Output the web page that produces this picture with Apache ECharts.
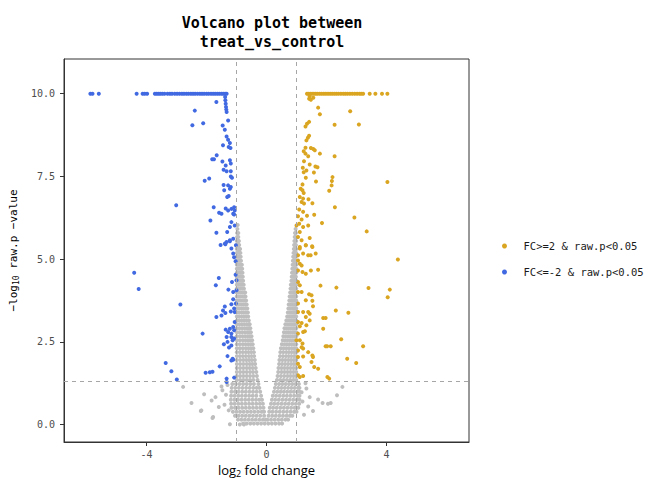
<!DOCTYPE html>
<html><head><meta charset="utf-8">
<script src="https://cdn.jsdelivr.net/npm/echarts@6/dist/echarts.min.js"></script>
<style>html,body{margin:0;padding:0;background:#fff}#c{width:650px;height:479px}</style>
</head><body><div id="c"></div>
<script>
// ---- data ----
const xTicks = [-4, 0, 4];
const yTicks = [0, 2.5, 5, 7.5, 10];
const fcCut = [-1, 1];
const pCut = [1.301];
const legendNames = ['FC>=2 & raw.p<0.05', 'FC<=-2 & raw.p<0.05'];

// down-regulated (blue)
const downX = [-5.87,-5.80,-5.59,-4.33,-4.13,-4.06,-3.98,-3.72,-3.66,-3.60,-3.54,-3.47,-3.40,-3.30,-3.22,-3.15,-3.06,-2.98,-2.90,-2.82,-2.75,-2.67,-2.60,-2.52,-2.45,-2.38,-2.30,-2.22,-2.15,-2.08,-2.00,-1.93,-1.85,-1.78,-1.71,-1.64,-1.57,-1.50,-1.44,-1.38,-1.33,
 -1.67,-1.38,-1.37,-1.36,-1.35,-1.34,-1.33,-2.39,-1.28,-2.47,-2.11,-1.46,-1.39,-1.33,-1.28,-1.22,-1.26,-1.20,-1.45,
 -1.81,-1.75,-1.66,-1.47,-1.36,-1.22,-1.19,-1.43,-1.33,-1.19,-1.19,-1.15,-2.06,-1.91,
 -1.43,-1.41,-1.28,-1.22,-1.19,-1.26,-1.31,-3.01,-1.76,-1.58,-1.50,-1.36,-1.28,-1.17,-1.11,-1.08,-1.06,-1.08,
 -1.87,-1.67,-1.31,-1.17,-1.06,-1.22,-1.53,-1.37,-1.22,-1.11,-1.02,
 -1.39,-1.33,-1.22,-1.17,-1.11,-1.08,-1.03,-4.41,-4.26,-1.03,-1.00,-1.15,-1.27,-1.11,-1.00,-1.59,-1.69,-2.87,
 -1.11,-1.17,-1.02,-1.08,-1.19,-1.39,-1.45,-1.50,-1.67,-1.37,-1.06,
 -1.06,-1.11,-1.22,-1.36,-1.28,-1.17,-1.08,-2.13,-1.33,-1.17,-1.08,-1.30,-1.13,-1.42,-1.25,-1.17,
 -1.30,-1.13,-1.17,-1.11,-1.56,-3.36,-3.17,-2.99,-2.03,-1.89,-1.80,-1.33,-1.33,-1.08];
const downY = [10,10,10,10,10,10,10,10,10,10,10,10,10,10,10,10,10,10,10,10,10,10,10,10,10,10,10,10,10,10,10,10,10,10,10,10,10,10,10,10,10,
 9.75,9.90,9.80,9.70,9.60,9.52,9.45,9.49,9.19,9.05,9.11,9.04,8.91,8.71,8.61,8.51,8.39,8.36,8.44,
 8.02,8.02,8.14,7.95,7.83,7.99,7.89,7.70,7.66,7.66,7.50,7.46,7.37,7.44,
 7.24,7.08,7.23,7.13,7.18,6.91,6.88,6.63,6.57,6.40,6.37,6.53,6.47,6.52,6.37,6.57,6.47,6.35,
 6.17,5.80,5.82,6.12,6.02,5.97,5.43,5.45,5.57,5.62,5.42,
 5.47,5.52,5.54,5.32,5.17,5.06,4.94,4.59,4.10,4.53,4.36,4.31,4.08,4.01,4.06,4.43,4.21,3.63,
 3.79,3.64,3.66,3.51,3.42,3.57,3.45,3.30,3.25,3.37,3.40,
 3.10,2.95,2.90,2.87,2.80,2.75,2.85,2.75,2.65,2.65,2.60,2.50,2.55,2.43,2.33,2.39,
 2.07,1.99,1.94,1.96,1.76,1.86,1.61,1.36,1.57,1.58,1.60,1.39,1.29,1.42];

// up-regulated (orange)
const upX = [1.35,1.40,1.46,1.52,1.58,1.64,1.70,1.77,1.84,1.91,1.98,2.05,2.12,2.19,2.26,2.33,2.40,2.48,2.56,2.63,2.70,2.78,2.86,2.94,3.02,3.10,3.16,3.22,3.44,3.63,3.85,4.03,
 1.42,1.48,1.56,1.44,1.72,1.78,2.79,1.30,1.35,1.42,2.27,3.08,1.33,1.38,1.42,1.30,1.48,1.56,1.61,1.78,1.24,1.30,1.39,2.27,
 1.25,1.44,1.63,1.70,1.21,1.24,1.33,1.58,1.31,1.65,2.20,2.18,2.17,2.09,4.03,
 1.20,1.14,1.20,1.24,1.11,1.22,1.17,1.25,1.40,1.53,2.28,
 1.09,1.22,1.05,1.35,1.59,1.17,1.00,1.09,1.22,1.39,1.85,2.93,3.34,
 1.44,1.11,1.17,1.05,1.31,1.53,1.11,1.52,1.31,1.11,1.05,1.22,1.39,1.47,1.64,4.38,
 1.05,1.11,1.17,1.05,1.20,1.31,1.48,1.72,1.05,1.11,1.05,1.17,1.80,2.33,3.40,4.11,4.04,
 1.42,1.50,1.53,1.55,1.31,1.05,2.31,2.73,1.05,1.22,1.39,1.44,1.31,1.05,1.17,1.44,
 1.89,1.97,1.89,1.11,1.33,1.22,1.28,1.05,1.00,2.49,1.11,1.20,1.17,1.05,1.22,
 1.97,2.02,2.14,3.22,1.39,1.53,1.55,1.22,1.05,2.69,2.99,1.50,1.05,1.11,1.59,1.72,
 1.05,1.11,1.22,2.03,2.09];
const upY = [10,10,10,10,10,10,10,10,10,10,10,10,10,10,10,10,10,10,10,10,10,10,10,10,10,10,10,10,10,10,10,10,
 9.85,9.82,9.88,9.92,9.58,9.38,9.47,9.01,9.09,9.15,9.06,9.07,8.59,8.67,8.73,8.37,8.36,8.33,8.29,8.19,8.26,8.19,8.11,8.11,
 7.96,7.86,7.80,7.78,7.76,7.63,7.68,7.62,7.46,7.35,7.48,7.36,7.23,7.07,7.33,
 7.26,7.13,7.08,7.00,6.88,6.83,6.73,6.68,6.81,6.69,6.57,
 6.50,6.43,6.30,6.31,6.34,6.20,6.02,6.07,5.97,6.02,6.09,6.26,5.84,
 5.64,5.82,5.57,5.67,5.42,5.37,5.37,5.39,5.42,5.32,5.12,5.17,5.12,5.12,5.17,4.99,
 4.96,4.86,4.81,4.66,4.61,4.56,4.66,4.68,4.31,4.21,4.01,4.01,4.20,4.14,4.13,4.08,3.85,
 3.94,3.91,3.74,3.58,3.76,3.66,3.45,3.38,3.40,3.40,3.40,3.35,3.25,3.10,3.07,3.15,
 3.22,3.22,2.90,2.97,3.00,2.80,2.82,2.75,2.55,2.58,2.55,2.45,2.34,2.24,2.30,
 2.37,2.37,2.37,2.37,2.19,2.09,2.04,2.06,2.04,1.99,1.86,1.89,1.84,1.74,1.74,1.69,
 1.49,1.44,1.47,1.44,1.39];

// not significant (grey): rows of the dense cloud, [y, x, x, ...]
const greyRows = [
 [0.03,-0.78,-0.66,-0.54,-0.42,-0.30,-0.18,-0.06,0.06,0.18,0.30,0.42,0.52],
 [0.15,-0.95,-0.84,-0.72,-0.60,-0.48,-0.36,-0.24,-0.12,-0.03,0.03,0.15,0.27,0.39,0.51,0.63,0.72],
 [0.27,-1.05,-0.93,-0.81,-0.69,-0.57,-0.45,-0.33,-0.21,-0.08,0.07,0.19,0.31,0.43,0.55,0.67,0.78,0.86],
 [0.39,-1.12,-1.00,-0.88,-0.76,-0.64,-0.52,-0.40,-0.28,-0.16,-0.08,0.09,0.20,0.32,0.44,0.56,0.68,0.80,0.92,1.00],
 [0.51,-1.17,-1.05,-0.93,-0.81,-0.69,-0.57,-0.45,-0.33,-0.21,-0.10,0.11,0.22,0.34,0.46,0.58,0.70,0.82,0.94,1.06],
 [0.63,-1.18,-1.06,-0.94,-0.82,-0.70,-0.58,-0.46,-0.34,-0.22,-0.12,0.15,0.26,0.38,0.50,0.62,0.74,0.86,0.98,1.09],
 [0.75,-1.19,-1.07,-0.95,-0.83,-0.71,-0.59,-0.47,-0.35,-0.24,-0.15,0.18,0.29,0.41,0.53,0.65,0.77,0.89,1.01,1.10],
 [0.87,-1.18,-1.06,-0.94,-0.82,-0.70,-0.58,-0.46,-0.34,-0.18,0.21,0.32,0.44,0.56,0.68,0.80,0.92,1.03,1.10],
 [0.99,-1.17,-1.05,-0.93,-0.81,-0.69,-0.57,-0.45,-0.33,-0.21,0.25,0.36,0.47,0.58,0.69,0.80,0.91,1.02,1.10],
 [1.11,-1.16,-1.04,-0.92,-0.80,-0.68,-0.56,-0.44,-0.33,-0.24,0.28,0.39,0.50,0.61,0.72,0.83,0.94,1.05,1.10],
 [1.23,-1.14,-1.02,-0.90,-0.78,-0.66,-0.54,-0.42,-0.27,0.31,0.42,0.53,0.64,0.75,0.86,0.97,1.08],
 [1.35,-0.99,-0.88,-0.77,-0.66,-0.55,-0.44,-0.30,0.35,0.46,0.57,0.68,0.79,0.90,0.99],
 [1.47,-0.99,-0.88,-0.77,-0.66,-0.55,-0.44,-0.32,0.37,0.48,0.59,0.70,0.80,0.90,0.99],
 [1.59,-0.99,-0.88,-0.77,-0.66,-0.55,-0.45,-0.34,0.39,0.50,0.60,0.70,0.80,0.90,0.99],
 [1.71,-0.99,-0.88,-0.77,-0.66,-0.56,-0.46,-0.36,0.40,0.50,0.60,0.70,0.80,0.90,0.99],
 [1.83,-0.99,-0.88,-0.77,-0.66,-0.56,-0.47,-0.38,0.42,0.52,0.62,0.72,0.82,0.91,0.99],
 [1.95,-0.99,-0.88,-0.77,-0.67,-0.58,-0.49,-0.39,0.43,0.53,0.63,0.73,0.82,0.91,0.99],
 [2.07,-0.99,-0.89,-0.79,-0.69,-0.59,-0.50,-0.41,0.45,0.55,0.65,0.74,0.83,0.92,0.99],
 [2.19,-0.99,-0.89,-0.79,-0.69,-0.60,-0.51,-0.42,0.46,0.56,0.66,0.75,0.84,0.92,0.99],
 [2.31,-0.99,-0.89,-0.79,-0.69,-0.60,-0.52,-0.44,0.48,0.57,0.66,0.75,0.84,0.92,0.99],
 [2.43,-0.99,-0.89,-0.79,-0.70,-0.61,-0.53,-0.46,0.51,0.60,0.68,0.76,0.84,0.92,0.99],
 [2.55,-0.99,-0.89,-0.79,-0.70,-0.62,-0.55,-0.48,0.54,0.62,0.70,0.78,0.85,0.92,0.99],
 [2.67,-0.99,-0.89,-0.80,-0.71,-0.63,-0.56,-0.50,0.56,0.64,0.72,0.79,0.86,0.93,0.99],
 [2.79,-0.99,-0.90,-0.81,-0.72,-0.64,-0.58,-0.52,0.58,0.66,0.73,0.80,0.87,0.93,0.99],
 [2.91,-0.99,-0.90,-0.81,-0.73,-0.65,-0.59,-0.54,0.60,0.67,0.74,0.81,0.87,0.93,0.99],
 [3.03,-0.99,-0.90,-0.82,-0.74,-0.66,-0.59,-0.56,0.63,0.70,0.77,0.83,0.89,0.94,0.99],
 [3.15,-0.99,-0.91,-0.83,-0.75,-0.67,-0.59,0.66,0.72,0.78,0.84,0.89,0.94,0.99],
 [3.27,-0.99,-0.91,-0.83,-0.75,-0.68,-0.61,0.69,0.75,0.80,0.85,0.90,0.95,0.99],
 [3.39,-0.99,-0.91,-0.83,-0.76,-0.69,-0.62,0.71,0.77,0.82,0.87,0.91,0.95,0.99],
 [3.51,-0.99,-0.92,-0.84,-0.77,-0.70,-0.64,0.73,0.78,0.83,0.88,0.92,0.96,0.99],
 [3.63,-0.99,-0.92,-0.85,-0.78,-0.71,-0.66,0.74,0.79,0.84,0.88,0.92,0.96,0.99],
 [3.75,-0.99,-0.92,-0.85,-0.78,-0.72,-0.68,0.76,0.81,0.85,0.89,0.93,0.96,0.99],
 [3.87,-0.99,-0.92,-0.86,-0.79,-0.73,-0.70,0.77,0.82,0.86,0.90,0.93,0.96,0.99],
 [3.99,-0.99,-0.93,-0.86,-0.80,-0.74,-0.71,0.79,0.83,0.87,0.91,0.94,0.97,0.99],
 [4.11,-0.99,-0.93,-0.87,-0.81,-0.75,0.80,0.85,0.89,0.93,0.96,0.99],
 [4.23,-0.99,-0.93,-0.87,-0.82,-0.76,0.81,0.85,0.89,0.93,0.96,0.99],
 [4.35,-0.99,-0.93,-0.87,-0.82,-0.78,0.83,0.87,0.91,0.94,0.97,0.99],
 [4.47,-0.99,-0.94,-0.88,-0.83,-0.79,0.84,0.88,0.92,0.95,0.98],
 [4.59,-0.99,-0.94,-0.88,-0.84,-0.80,0.85,0.89,0.93,0.96,0.99],
 [4.71,-0.99,-0.94,-0.89,-0.84,-0.81,0.86,0.90,0.93,0.96,0.99],
 [4.83,-0.99,-0.94,-0.89,-0.85,-0.82,0.87,0.91,0.94,0.97,0.99],
 [4.95,-0.99,-0.94,-0.89,-0.85,0.88,0.91,0.94,0.97,0.99],
 [5.07,-0.99,-0.94,-0.90,-0.86,0.89,0.92,0.95,0.98],
 [5.19,-0.99,-0.95,-0.90,-0.87,0.90,0.93,0.96,0.99],
 [5.31,-0.99,-0.95,-0.91,-0.88,0.91,0.94,0.97,0.99],
 [5.43,-0.99,-0.95,-0.91,0.92,0.95,0.98],
 [5.55,-0.99,-0.95,-0.92,0.93,0.96,0.99],
 [5.67,-0.98,-0.94,0.94,0.97],
 [5.79,-0.98,-0.94,0.95,0.98],
 [5.91,-0.97,0.97],
 [6.03,-0.96]
];
// scattered grey points outside the dense cloud
const greyOutX = [-2.78,-2.08,-2.50,-2.19,-1.80,-1.59,-1.83,-1.70,-1.47,-1.26,-1.22,-0.89,-0.75,-2.17,-1.78,-1.35,-1.40,-1.30,-1.50,
 2.53,2.35,2.14,1.87,1.55,1.72,1.39,1.44,1.17,1.33,2.05,1.25,1.20,1.30];
const greyOutY = [1.14,0.92,0.65,0.41,0.20,0.53,0.73,0.83,1.04,0.43,0.01,0.00,0.00,0.43,0.23,0.90,0.60,1.20,1.15,
 1.14,0.89,0.65,0.65,0.41,0.76,0.55,0.83,0.98,1.09,0.63,0.30,0.70,1.25];

// ---- build series data ----
const pairs = (xs, ys) => xs.map((x, i) => [x, ys[i]]);
const greyData = [];
greyRows.forEach(r => { for (let i = 1; i < r.length; i++) greyData.push([r[i], r[0]]); });
pairs(greyOutX, greyOutY).forEach(p => greyData.push(p));

const MONO = "'DejaVu Sans Mono', 'Liberation Mono', monospace";
const chart = echarts.init(document.getElementById('c'), null, { renderer: 'svg' });
chart.setOption({
  animation: false,
  backgroundColor: '#ffffff',
  title: {
    text: 'Volcano plot between\ntreat_vs_control',
    left: 267, top: 8, textAlign: 'center',
    textStyle: { fontFamily: MONO, fontWeight: 'bold', fontSize: 15, lineHeight: 19, color: '#000' }
  },
  legend: {
    orient: 'vertical', left: 497, top: 234, itemGap: 12,
    itemWidth: 28, itemHeight: 5,
    textStyle: { fontFamily: MONO, fontSize: 10.5, color: '#1a1a1a', lineHeight: 14 },
    data: [{ name: legendNames[0], icon: 'circle' }, { name: legendNames[1], icon: 'circle' }]
  },
  grid: { left: 64, right: 181, top: 59, bottom: 37, show: true, borderColor: '#333', borderWidth: 1,
          containLabel: false, outerBoundsMode: 'none' },
  xAxis: {
    type: 'value', min: -6.75, max: 6.75,
    name: '{n|log}{s|2}{n| fold change}', nameLocation: 'middle', nameGap: 19,
    nameTextStyle: { rich: {
      n: { fontFamily: "'Open Sans', 'Liberation Sans', sans-serif", fontSize: 13, color: '#000' },
      s: { fontFamily: "'Open Sans', 'Liberation Sans', sans-serif", fontSize: 9, color: '#000', padding: [6, 0, 0, 0] } } },
    axisLine: { show: true, onZero: false, lineStyle: { color: '#333', width: 1 } },
    axisTick: { show: true, length: 4, customValues: xTicks, lineStyle: { color: '#333' } },
    axisLabel: { customValues: xTicks, margin: 7, fontFamily: MONO, fontSize: 10, color: '#4d4d4d', formatter: v => String(v) },
    splitLine: { show: false }
  },
  yAxis: {
    type: 'value', min: -0.526, max: 11.05,
    name: '{n|−log}{s|10}{n| raw.p −value}', nameLocation: 'middle', nameGap: 35,
    nameTextStyle: { rich: {
      n: { fontFamily: MONO, fontSize: 11, color: '#000' },
      s: { fontFamily: MONO, fontSize: 8, color: '#000', padding: [5, 0, 0, 0] } } },
    axisLine: { show: true, onZero: false, lineStyle: { color: '#333', width: 1 } },
    axisTick: { show: true, length: 4, customValues: yTicks, lineStyle: { color: '#333' } },
    axisLabel: { customValues: yTicks, margin: 9, fontFamily: MONO, fontSize: 10, color: '#4d4d4d', formatter: v => v.toFixed(1) },
    splitLine: { show: false }
  },
  series: [
    { type: 'scatter', name: 'NS', data: greyData, symbolSize: 4, itemStyle: { color: '#BEBEBE', opacity: 1 }, z: 2, silent: true },
    { type: 'scatter', name: legendNames[1], data: pairs(downX, downY), symbolSize: 4, itemStyle: { color: '#4169E1', opacity: 1 }, z: 3 },
    { type: 'scatter', name: legendNames[0], data: pairs(upX, upY), symbolSize: 4, itemStyle: { color: '#DAA520', opacity: 1 }, z: 3 },
    { type: 'scatter', name: 'cut', data: [], z: 5, silent: true,
      markLine: { silent: true, symbol: ['none', 'none'], label: { show: false }, animation: false,
        lineStyle: { color: '#a6a6a6', type: [4, 4], width: 1 },
        data: fcCut.map(v => ({ xAxis: v })).concat(pCut.map(v => ({ yAxis: v }))) } }
  ]
});
</script></body></html>
